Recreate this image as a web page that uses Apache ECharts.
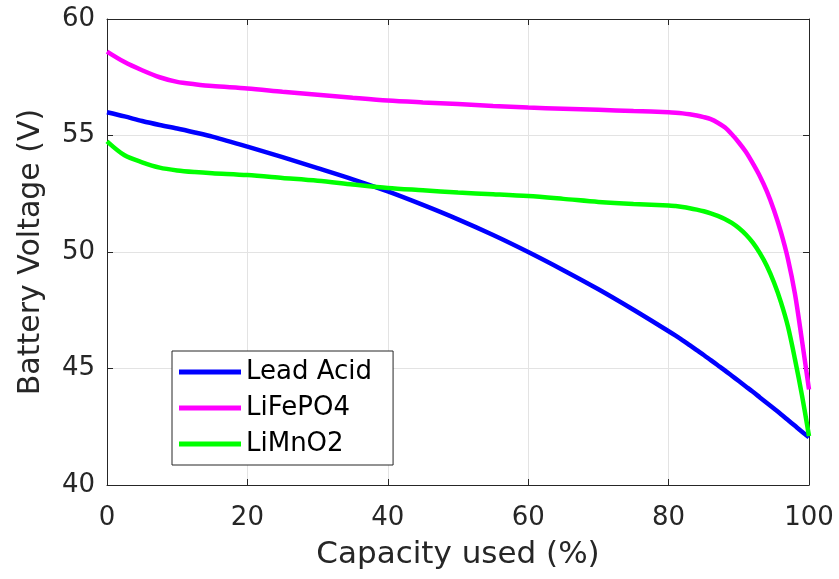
<!DOCTYPE html>
<html>
<head>
<meta charset="utf-8">
<script src="https://cdn.jsdelivr.net/npm/echarts@6/dist/echarts.min.js"></script>
<style>
html,body{margin:0;padding:0;background:#fff;}
#chart{width:839px;height:579px;}
</style>
</head>
<body>
<div id="chart"></div>
<script>
const capacityUsed = [0,2.5,5,7.5,10,12.5,15,20,25,30,35,40,45,50,55,60,65,70,75,80,
  81,82,83,84,85,86,87,88,89,90,91,92,93,94,95,96,97,98,99,100];
const leadAcid = [56.0,55.82,55.62,55.45,55.3,55.13,54.95,54.52,54.07,53.6,53.12,52.6,52.02,51.4,50.73,50.0,49.22,48.4,47.52,46.6,
  46.41,46.21,46.0,45.79,45.58,45.36,45.14,44.92,44.69,44.46,44.23,44.0,43.76,43.52,43.28,43.04,42.79,42.54,42.29,42.05];
const lifepo4 = [58.6,58.15,57.8,57.5,57.3,57.2,57.12,57.02,56.88,56.75,56.62,56.5,56.42,56.35,56.27,56.2,56.15,56.1,56.05,56.0,
  55.98,55.95,55.91,55.86,55.79,55.7,55.55,55.35,55.05,54.7,54.3,53.8,53.25,52.6,51.8,50.85,49.7,48.2,46.2,44.1];
const limno2 = [54.75,54.15,53.85,53.62,53.5,53.43,53.38,53.3,53.18,53.06,52.9,52.75,52.65,52.55,52.48,52.4,52.28,52.15,52.06,52.0,
  51.97,51.93,51.88,51.82,51.75,51.66,51.55,51.42,51.25,51.03,50.75,50.4,49.95,49.4,48.7,47.85,46.8,45.4,43.85,42.1];
const seriesNames = ['Lead Acid','LiFePO4','LiMnO2'];
const xTicks = {min:0, max:100, interval:20};
const yTicks = {min:40, max:60, interval:5};

const pair = arr => capacityUsed.map((x,i)=>[x, arr[i]]);
const font = 'DejaVu Sans';
const axisColor = '#262626';
const textColor = '#262626';

const chart = echarts.init(document.getElementById('chart'));
const mkLine = (name, data, color) => ({
  name, type:'line', data: pair(data), symbol:'none', smooth:0.3,
  lineStyle:{color, width:4.5}, itemStyle:{color}, xAxisIndex:0, yAxisIndex:0
});
chart.setOption({
  animation:false,
  backgroundColor:'#fff',
  grid:{left:107, top:19, right:30, bottom:94, containLabel:false},
  legend:{
    data:seriesNames, orient:'vertical', left:172, top:351,
    icon:'rect', itemWidth:62, itemHeight:5, itemGap:10, itemTextGap:6,
    padding:[8,21,8,7], backgroundColor:'#fff', borderColor:axisColor, borderWidth:1,
    textStyle:{fontFamily:font, fontSize:26, color:'#000'}
  },
  xAxis:[{
    type:'value', min:xTicks.min, max:xTicks.max, interval:xTicks.interval,
    name:'Capacity used (%)', nameLocation:'middle', nameGap:54,
    nameTextStyle:{fontFamily:font, fontSize:31, color:textColor},
    axisLine:{show:true, onZero:false, lineStyle:{color:axisColor, width:1}},
    axisTick:{show:true, inside:true, length:6, lineStyle:{color:axisColor}},
    axisLabel:{fontFamily:font, fontSize:26, color:textColor, margin:20},
    splitLine:{show:true, lineStyle:{color:'#e3e3e3', width:1}}
  },{
    type:'value', position:'top', min:xTicks.min, max:xTicks.max, interval:xTicks.interval,
    axisLine:{show:true, onZero:false, lineStyle:{color:axisColor, width:1}},
    axisTick:{show:true, inside:true, length:6, lineStyle:{color:axisColor}},
    axisLabel:{show:false}, splitLine:{show:false}
  }],
  yAxis:[{
    type:'value', min:yTicks.min, max:yTicks.max, interval:yTicks.interval,
    name:'Battery Voltage (V)', nameLocation:'middle', nameGap:61,
    nameTextStyle:{fontFamily:font, fontSize:30, color:textColor},
    axisLine:{show:true, onZero:false, lineStyle:{color:axisColor, width:1}},
    axisTick:{show:true, inside:true, length:6, lineStyle:{color:axisColor}},
    axisLabel:{fontFamily:font, fontSize:26, color:textColor, margin:12},
    splitLine:{show:true, lineStyle:{color:'#e3e3e3', width:1}}
  },{
    type:'value', position:'right', min:yTicks.min, max:yTicks.max, interval:yTicks.interval,
    axisLine:{show:true, onZero:false, lineStyle:{color:axisColor, width:1}},
    axisTick:{show:true, inside:true, length:6, lineStyle:{color:axisColor}},
    axisLabel:{show:false}, splitLine:{show:false}
  }],
  series:[
    mkLine(seriesNames[0], leadAcid, '#0000ff'),
    mkLine(seriesNames[1], lifepo4, '#ff00ff'),
    mkLine(seriesNames[2], limno2, '#00ff00')
  ]
});
</script>
</body>
</html>
